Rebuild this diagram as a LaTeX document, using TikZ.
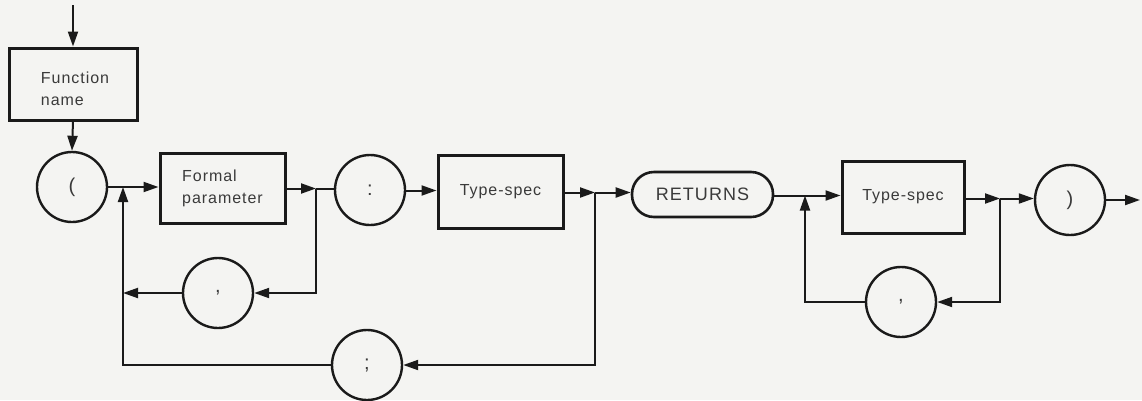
\documentclass[tikz,border=0pt]{standalone}
\usepackage{fontspec}
\setmainfont{Liberation Sans}[LetterSpace=6.0]
\usetikzlibrary{arrows.meta,calc}
\definecolor{ink}{HTML}{1A1A1A}
\definecolor{txt}{HTML}{3A3A3A}
\definecolor{paper}{HTML}{F4F4F2}
\begin{document}
\begin{tikzpicture}[x=1pt,y=-1pt,
  every node/.style={text=txt, font=\fontsize{16}{22}\selectfont, inner sep=0pt},
  boxnode/.style={draw=ink, line width=3pt, rectangle, align=left},
  circnode/.style={draw=ink, line width=2.4pt, circle, minimum size=70pt, font=\fontsize{20}{24}\selectfont},
  retnode/.style={draw=ink, line width=2.6pt, rectangle, rounded corners=22pt, minimum width=141pt, minimum height=45pt, font=\fontsize{18}{22}\selectfont},
  labelnode/.style={align=left},
  conn/.style={draw=ink, line width=2pt},
  arr/.style={conn, -{Triangle[length=15pt,width=10pt]}}
]
\fill[paper] (0,0) rectangle (1142,400);
\useasboundingbox (0,0) rectangle (1142,400);

% nodes
\node[boxnode, minimum width=128pt, minimum height=72pt] (fn) at (73,84) {};
\node[labelnode] (fntext) at (75,89) {Function\\name};
\node[circnode] (lp) at (72,187) {(};
\node[boxnode, minimum width=125pt, minimum height=70pt] (fp) at (222.5,188) {Formal\\parameter};
\node[circnode] (colon) at (370,190) {:};
\node[boxnode, minimum width=125pt, minimum height=73pt] (ts1) at (500.5,191.5) {Type-spec};
\node[retnode] (ret) at (702.5,194.5) {RETURNS};
\node[boxnode, minimum width=122pt, minimum height=72pt] (ts2) at (903,197) {Type-spec};
\node[circnode] (rp) at (1070,200) {)};
\node[circnode] (comma1) at (218,293) {,};
\node[circnode] (semi) at (367,365) {;};
\node[circnode] (comma2) at (901,302) {,};

% junctions, levels and free ends
\coordinate (start) at (73,5);
\coordinate (y1) at (0,187);
\coordinate (y2) at (0,188.5);
\coordinate (y3) at (0,190.5);
\coordinate (y4) at (0,192.5);
\coordinate (y5) at (0,195.5);
\coordinate (y6) at (0,198.5);
\coordinate (j0) at (123,187);
\coordinate (j1) at (316,188.5);
\coordinate (j2) at (595,192.5);
\coordinate (j3) at (805,195.5);
\coordinate (j4) at (1000,198.5);
\coordinate (exit) at (1140,200);

% main line
\draw[arr] (start) -- (fn.north);
\draw[arr] (fn.south) -- (lp.north);
\draw[arr] (lp.east |- y1) -- (fp.west |- y1);
\draw[arr] (fp.east |- y2) -- (j1);
\draw[conn] (j1) -- (colon.west |- y2);
\draw[arr] (colon.east |- y3) -- (ts1.west |- y3);
\draw[arr] (ts1.east |- y4) -- (j2);
\draw[arr] (j2) -- (ret.west |- y4);
\draw[conn] (ret.east |- y5) -- (j3);
\draw[arr] (j3) -- (ts2.west |- y5);
\draw[arr] (ts2.east |- y6) -- (j4);
\draw[arr] (j4) -- (rp.west |- y6);
\draw[arr] (rp.east) -- (exit);

% loops
\draw[arr] (j1) |- (comma1.east);
\draw[arr] (comma1.west) -- (comma1.west -| j0);
\draw[arr] (j2) |- (semi.east);
\draw[arr] (semi.west) -| (j0);
\draw[arr] (j4) |- (comma2.east);
\draw[arr] (comma2.west) -| (j3);
\end{tikzpicture}
\end{document}
